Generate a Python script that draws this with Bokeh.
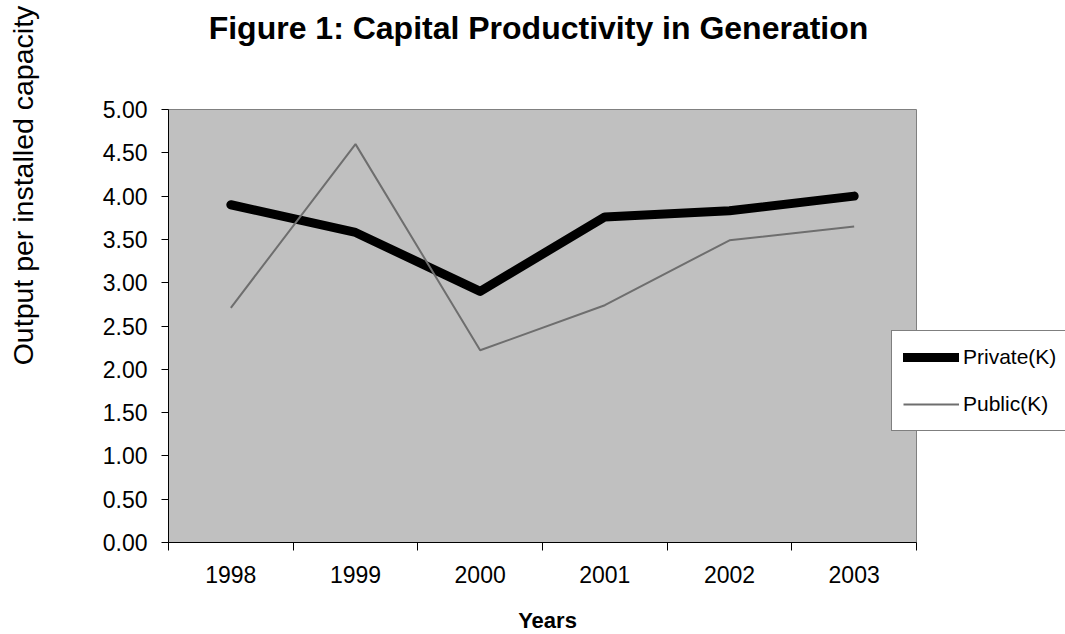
from bokeh.plotting import figure
from bokeh.models import (Range1d, FixedTicker, Label, Legend, LegendItem)
from bokeh.embed import file_html
from bokeh.resources import INLINE
from math import pi

years = ["1998", "1999", "2000", "2001", "2002", "2003"]
private_k = [3.90, 3.58, 2.90, 3.76, 3.83, 4.00]
public_k = [2.71, 4.60, 2.22, 2.74, 3.49, 3.65]
y_ticks = [0.0, 0.5, 1.0, 1.5, 2.0, 2.5, 3.0, 3.5, 4.0, 4.5, 5.0]

FONT = "Liberation Sans"
W, H = 1065, 634
# plot-area pixel box inside the canvas
PL, PR, PT, PB = 168, 916, 109, 542

n = len(years)
y0, y1 = y_ticks[0], y_ticks[-1]
sx = (PR - PL) / n
sy = (PB - PT) / (y1 - y0)
x_range = Range1d(-PL / sx, n + (W - PR) / sx)
y_range = Range1d(y0 - (H - PB) / sy, y1 + PT / sy)

x_pos = [i + 0.5 for i in range(n)]

p = figure(width=W, height=H, output_backend="svg", toolbar_location=None,
           x_range=x_range, y_range=y_range,
           min_border=0, min_border_left=0, min_border_right=0,
           min_border_top=0, min_border_bottom=0)

p.background_fill_color = "white"
p.border_fill_color = "white"
p.outline_line_color = None
p.grid.visible = False

# plot area
p.quad(left=[0], right=[n], bottom=[y0], top=[y1],
       fill_color="#C0C0C0", line_color="#808080", line_width=1)

# lines
r_priv = p.line(x_pos, private_k, line_color="black", line_width=9,
                line_cap="round", line_join="round")
r_pub = p.line(x_pos, public_k, line_color="#6E6E6E", line_width=2)

# x axis
xa = p.xaxis[0]
xa.fixed_location = y0
xa.bounds = (0, n)
xa.ticker = FixedTicker(ticks=x_pos, minor_ticks=list(range(n + 1)))
xa.major_label_overrides = {x: y for x, y in zip(x_pos, years)}
xa.major_tick_line_color = None
xa.major_tick_out = 0
xa.major_tick_in = 0
xa.minor_tick_out = 8
xa.minor_tick_in = 0
xa.minor_tick_line_color = "black"
xa.axis_line_color = "black"
xa.major_label_text_font = FONT
xa.major_label_text_font_size = "23px"
xa.major_label_text_color = "black"
xa.major_label_standoff = 15

# y axis
ya = p.yaxis[0]
ya.fixed_location = 0
ya.bounds = (y0, y1)
ya.ticker = FixedTicker(ticks=y_ticks)
ya.major_label_overrides = {v: f"{v:.2f}" for v in y_ticks}
ya.major_tick_out = 7
ya.major_tick_in = 0
ya.minor_tick_line_color = None
ya.axis_line_color = "black"
ya.major_tick_line_color = "black"
ya.major_label_text_font = FONT
ya.major_label_text_font_size = "23px"
ya.major_label_text_color = "black"
ya.major_label_standoff = 14

# title
p.add_layout(Label(x=538, y=H - 27, x_units="screen", y_units="screen",
                   text="Figure 1: Capital Productivity in Generation",
                   text_font=FONT, text_font_size="32px", text_font_style="bold",
                   text_align="center", text_baseline="middle", text_color="black"))
# y label
p.add_layout(Label(x=22, y=H - 185, x_units="screen", y_units="screen",
                   text="Output per installed capacity", angle=pi / 2,
                   text_font=FONT, text_font_size="28.5px",
                   text_align="center", text_baseline="middle", text_color="black"))
# x label
p.add_layout(Label(x=547, y=H - 620, x_units="screen", y_units="screen",
                   text="Years",
                   text_font=FONT, text_font_size="22px", text_font_style="bold",
                   text_align="center", text_baseline="middle", text_color="black"))

legend = Legend(items=[LegendItem(label="Private(K)", renderers=[r_priv]),
                       LegendItem(label="Public(K)", renderers=[r_pub])],
                location=(891, H - 431), orientation="vertical",
                label_text_font=FONT, label_text_font_size="21px",
                label_text_color="black",
                glyph_width=56, glyph_height=30, label_height=30,
                label_standoff=4, spacing=17, padding=11, margin=0,
                border_line_color="black", border_line_width=1,
                background_fill_color="white", background_fill_alpha=1.0)
p.add_layout(legend, "center")

open("out.html", "w").write(file_html(p, INLINE))
